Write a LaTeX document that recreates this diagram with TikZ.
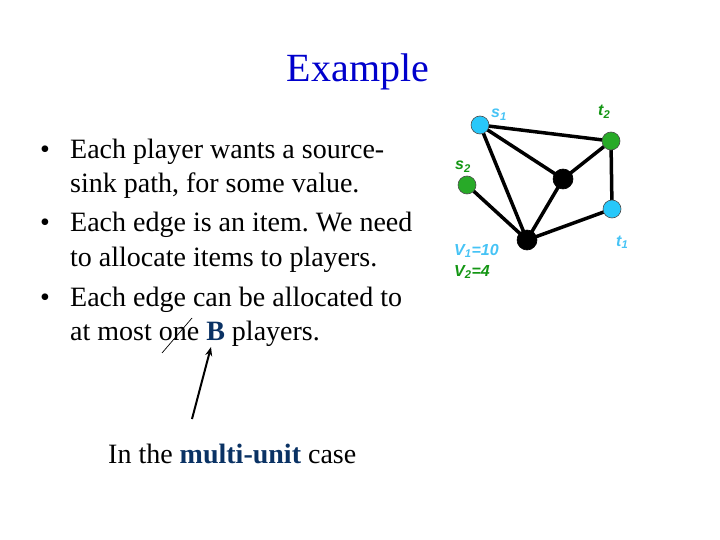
\documentclass[tikz,border=0pt]{standalone}
\usepackage{fontspec}
\setmainfont{Liberation Serif}
\newfontfamily\arialfont{Liberation Sans}
\usetikzlibrary{arrows.meta,backgrounds}
\definecolor{titleblue}{RGB}{0,0,204}
\definecolor{navy}{RGB}{10,50,100}
\definecolor{cyanfill}{RGB}{40,200,250}
\definecolor{cyantext}{RGB}{70,195,245}
\definecolor{greenfill}{RGB}{40,170,40}
\definecolor{greentext}{RGB}{20,150,20}
\frenchspacing
\begin{document}
\begin{tikzpicture}[x=1pt,y=-1pt,
  txt/.style={inner sep=0pt,anchor=base west,font=\fontsize{28}{34}\selectfont},
  lbl/.style={inner sep=0pt,anchor=base west,font=\arialfont\bfseries\itshape\fontsize{16}{18}\selectfont},
  vtx/.style={circle,draw=black!70,line width=0.6pt,inner sep=0pt,minimum size=18pt},
  cyanv/.style={vtx,fill=cyanfill},
  greenv/.style={vtx,fill=greenfill},
  blackv/.style={vtx,fill=black,draw=black,minimum size=20pt},
  edge/.style={line width=3.5pt,black}]
\path[use as bounding box] (0,0) rectangle (720,540);
% title
\node[inner sep=0pt,anchor=base,font=\fontsize{40}{48}\selectfont,text=titleblue] (title) at (358,82) {Example};
% bullets
\node[txt] (b1) at (40,159) {•};
\node[txt] (l1) at (70,159) {Each player wants a source-};
\node[txt] (l2) at (70,193) {sink path, for some value.};
\node[txt] (b2) at (40,232) {•};
\node[txt] (l3) at (70,232) {Each edge is an item. We need};
\node[txt] (l4) at (70,266) {to allocate items to players.};
\node[txt] (b3) at (40,306) {•};
\node[txt] (l5) at (70,306) {Each edge can be allocated to};
\node[txt] (l6) at (70,340) {at most one \textcolor{navy}{\textbf{B}} players.};
\node[txt] (l7) at (108,463) {In the \textcolor{navy}{\textbf{multi-unit}} case};
% strike-out and arrow
\coordinate (sA) at (162,353);
\coordinate (sB) at (192,318);
\draw[line width=0.7pt] (sA) -- (sB);
\coordinate (aT) at (192,419);
\coordinate (aH) at (211,347);
\draw[line width=2pt,-{Stealth[length=9pt,width=7pt]}] (aT) -- (aH);
% graph
\node[cyanv] (s1) at (480,125) {};
\node[greenv] (t2) at (611,141) {};
\node[greenv] (s2) at (467,185) {};
\node[blackv] (m) at (563,179) {};
\node[cyanv] (t1) at (612,209) {};
\node[blackv] (b) at (527,240) {};
\begin{pgfonlayer}{background}
\draw[edge] (s1.center) -- (t2.center);
\draw[edge] (s1.center) -- (m.center);
\draw[edge] (s1.center) -- (b.center);
\draw[edge] (s2.center) -- (b.center);
\draw[edge] (m.center) -- (t2.center);
\draw[edge] (m.center) -- (b.center);
\draw[edge] (t2.center) -- (t1.center);
\draw[edge] (t1.center) -- (b.center);
\end{pgfonlayer}
\node[lbl,text=cyantext] (ls1) at (491,118) {s\textsubscript{1}};
\node[lbl,text=greentext] (lt2) at (598,116) {t\textsubscript{2}};
\node[lbl,text=greentext] (ls2) at (455,170) {s\textsubscript{2}};
\node[lbl,text=cyantext] (lt1) at (616,246) {t\textsubscript{1}};
\node[lbl,text=cyantext] (v1) at (454,255) {V\textsubscript{1}=10};
\node[lbl,text=greentext] (v2) at (454,276) {V\textsubscript{2}=4};
\end{tikzpicture}
\end{document}
